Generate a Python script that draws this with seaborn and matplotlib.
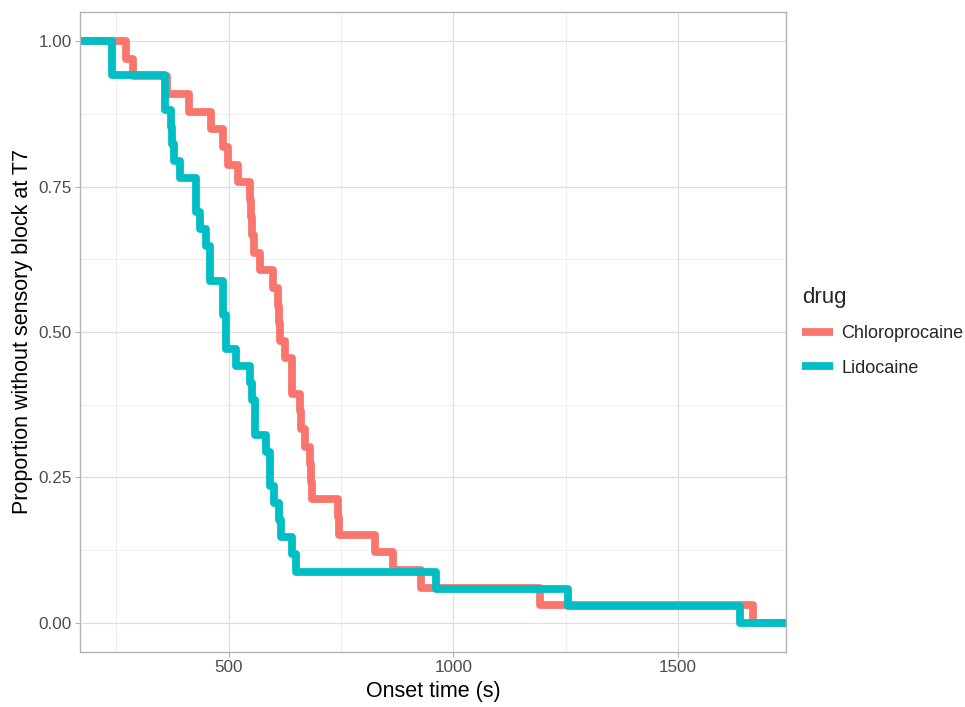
import pandas as pd
import matplotlib
matplotlib.use("Agg")
import matplotlib.pyplot as plt
from matplotlib.ticker import FixedLocator, FormatStrFormatter
from matplotlib.lines import Line2D
import seaborn as sns

# Kaplan-Meier style curves: time (s) and patients still without block after that time
chloro_time = [0, 272, 287, 364, 413, 461, 487, 498, 521, 547, 549, 553, 556, 569, 599,
               610, 612, 615, 625, 640, 642, 658, 660, 669, 680, 683, 686, 743, 745,
               825, 866, 929, 1192, 1667, 1800]
chloro_left = [33, 32, 31, 30, 29, 28, 27, 26, 25, 24, 23, 22, 21, 20, 19,
               18, 17, 16, 15, 14, 13, 12, 11, 10, 9, 8, 7, 6, 5,
               4, 3, 2, 1, 0, 0]
chloro_n = 33

lido_time = [0, 240, 358, 372, 375, 378, 391, 428, 436, 450, 458, 487, 495, 517, 547,
             553, 558, 584, 591, 602, 613, 617, 640, 651, 962, 1255, 1637, 1800]
lido_left = [34, 32, 30, 29, 28, 27, 26, 24, 23, 22, 20, 18, 16, 15, 14,
             13, 11, 10, 8, 7, 6, 5, 4, 3, 2, 1, 0, 0]
lido_n = 34

drugs = ["Chloroprocaine", "Lidocaine"]
colors = ["#F8766D", "#00BFC4"]

df = pd.concat([
    pd.DataFrame({"time": chloro_time, "surv": [c / chloro_n for c in chloro_left], "drug": "Chloroprocaine"}),
    pd.DataFrame({"time": lido_time, "surv": [c / lido_n for c in lido_left], "drug": "Lidocaine"}),
])

sns.set_theme(style="white")
plt.rcParams["font.family"] = ["Liberation Sans", "DejaVu Sans"]

fig = plt.figure(figsize=(9.65, 7.07), dpi=100)
ax = fig.add_axes([80 / 965, 1 - 652 / 707, 706 / 965, 640 / 707])

sns.lineplot(data=df, x="time", y="surv", hue="drug", hue_order=drugs,
             palette=colors, estimator=None, drawstyle="steps-post",
             linewidth=5.6, ax=ax, legend=False)

ax.set_xlim(169.5, 1739.7)
ax.set_ylim(-0.05, 1.05)

ax.xaxis.set_major_locator(FixedLocator([500, 1000, 1500]))
ax.xaxis.set_minor_locator(FixedLocator([250, 750, 1250]))
ax.yaxis.set_major_locator(FixedLocator([0, 0.25, 0.5, 0.75, 1.0]))
ax.yaxis.set_minor_locator(FixedLocator([0.125, 0.375, 0.625, 0.875]))
ax.yaxis.set_major_formatter(FormatStrFormatter("%.2f"))

ax.grid(which="major", color="#DEDEDE", linewidth=0.9)
ax.grid(which="minor", color="#E8E8E8", linewidth=0.5)
ax.set_axisbelow(True)

for s in ax.spines.values():
    s.set_color("#B3B3B3")
    s.set_linewidth(1.0)

ax.tick_params(axis="both", which="major", length=3.5, width=0.8, color="#B3B3B3",
               labelsize=12.3, labelcolor="#4D4D4D", pad=2.5, left=True, bottom=True)
ax.tick_params(axis="both", which="minor", length=0)

ax.set_xlabel("Onset time (s)", fontsize=15.5, color="black", labelpad=4)
ax.set_ylabel("Proportion without sensory block at T7", fontsize=15.5, color="black", labelpad=4)

handles = [Line2D([0], [0], color=c, linewidth=5.6, solid_capstyle="butt") for c in colors]
leg = ax.legend(handles, drugs, title="drug", loc="center left",
                bbox_to_anchor=(1.0, 0.5), frameon=False, fontsize=13,
                title_fontsize=16, handlelength=1.7, handletextpad=0.45,
                labelspacing=0.95, borderaxespad=0.5)
leg._legend_box.align = "left"

fig.savefig("out.png", dpi=100)
